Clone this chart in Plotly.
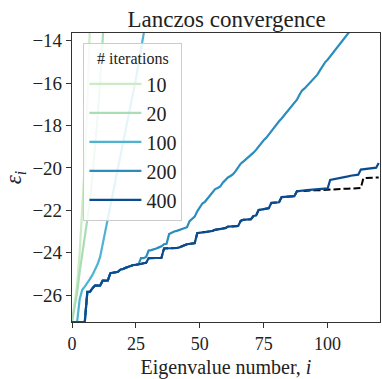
import plotly.graph_objects as go

# ---- data ----
iters_labels = ["10", "20", "100", "200", "400"]
colors = ["#ccebc5", "#a8ddb5", "#4eb3d3", "#2b8cbe", "#0a4c92"]

exact_vals = [
    -27.27, -27.27, -27.27, -27.27, -27.27, -27.27, -25.85, -25.85, -25.68, -25.55,
    -25.55, -25.55, -25.32, -25.32, -25.32, -24.97, -24.95, -24.95, -24.90, -24.79,
    -24.77, -24.71, -24.66, -24.60, -24.58, -24.57, -24.56, -24.53, -24.50, -24.48,
    -24.26, -24.26, -24.26, -24.25, -24.25, -24.24, -23.80, -23.80, -23.80, -23.80,
    -23.79, -23.78, -23.75, -23.68, -23.65, -23.60, -23.58, -23.56, -23.55, -23.08,
    -23.05, -23.04, -23.03, -23.02, -23.00, -22.97, -22.92, -22.90, -22.88, -22.86,
    -22.84, -22.77, -22.77, -22.76, -22.75, -22.74, -22.50, -22.45, -22.44, -22.43,
    -22.42, -22.27, -22.25, -21.99, -21.97, -21.95, -21.93, -21.90, -21.65, -21.65,
    -21.63, -21.62, -21.38, -21.37, -21.36, -21.35, -21.34, -21.33, -21.10, -21.09,
    -21.09, -21.08, -21.08, -21.07, -21.07, -21.06, -21.06, -21.05, -21.05, -21.04,
    -21.04, -21.03, -21.02, -21.01, -21.00, -20.99, -20.99, -20.98, -20.98, -20.97,
    -20.97, -20.96, -20.96, -20.95, -20.48, -20.48, -20.47, -20.47, -20.46, -20.46,
    -20.45,
]

ritz_10 = [-27.27, -26.4, -25.5, -24.0, -21.9, -19.8, -17.0, -13.7, -10.0, -6.0]

ritz_20 = [-27.27, -26.6, -25.9, -24.9, -24.1, -23.3, -22.6, -21.6, -20.4, -19.1,
           -17.6, -15.9, -14.0, -12.0]

ritz_100 = [-27.27, -27.27, -27.27, -26.2, -25.75, -25.6, -25.45, -25.25, -25.05, -24.8,
            -24.55, -24.2, -23.6, -23.1, -22.5, -21.95, -21.3, -20.65, -20.0, -19.4,
            -18.8, -18.2, -17.6, -17.0, -16.4, -15.8, -15.1, -14.4, -13.7, -13.0, -12.3]

ritz_200 = [
    -27.27, -27.27, -27.27, -27.27, -27.27, -27.27, -25.85, -25.85, -25.68, -25.55,
    -25.55, -25.55, -25.32, -25.32, -25.32, -24.97, -24.95, -24.95, -24.90, -24.79,
    -24.77, -24.71, -24.66, -24.60, -24.58, -24.57, -24.56, -24.26, -24.26, -24.20,
    -23.90, -23.88, -23.85, -23.80, -23.75, -23.70, -23.60, -23.58, -23.12, -23.05,
    -23.00, -22.97, -22.92, -22.87, -22.82, -22.80, -22.51, -22.42, -22.30, -22.05,
    -21.85, -21.68, -21.60, -21.45, -21.30, -21.12, -21.00, -20.95, -20.88, -20.70,
    -20.55, -20.45, -20.38, -20.30, -20.15, -19.95, -19.80, -19.70, -19.60, -19.50,
    -19.38, -19.28, -19.15, -18.98, -18.82, -18.70, -18.58, -18.42, -18.25, -18.10,
    -17.95, -17.80, -17.67, -17.52, -17.40, -17.25, -17.12, -16.95, -16.78, -16.55,
    -16.35, -16.25, -16.12, -16.00, -15.88, -15.77, -15.60, -15.40, -15.20, -15.02,
    -14.90, -14.75, -14.60, -14.42, -14.26, -14.10, -13.95, -13.80, -13.65, -13.50,
    -13.35,
]

ritz_400 = [
    -27.27, -27.27, -27.27, -27.27, -27.27, -27.27, -25.85, -25.85, -25.68, -25.55,
    -25.55, -25.55, -25.32, -25.32, -25.32, -24.97, -24.95, -24.95, -24.90, -24.79,
    -24.77, -24.71, -24.66, -24.60, -24.58, -24.57, -24.56, -24.53, -24.50, -24.48,
    -24.26, -24.26, -24.26, -24.25, -24.25, -24.24, -23.80, -23.80, -23.80, -23.80,
    -23.79, -23.78, -23.75, -23.68, -23.65, -23.60, -23.58, -23.56, -23.55, -23.08,
    -23.05, -23.04, -23.03, -23.02, -23.00, -22.97, -22.92, -22.90, -22.88, -22.86,
    -22.84, -22.77, -22.77, -22.76, -22.75, -22.74, -22.50, -22.45, -22.44, -22.43,
    -22.42, -22.27, -22.25, -21.99, -21.97, -21.95, -21.93, -21.90, -21.65, -21.65,
    -21.63, -21.62, -21.38, -21.37, -21.36, -21.35, -21.34, -21.33, -21.10, -21.08,
    -21.07, -21.06, -21.05, -21.04, -21.03, -21.02, -21.01, -21.00, -20.99, -20.98,
    -20.97, -20.57, -20.55, -20.52, -20.50, -20.48, -20.45, -20.42, -20.40, -20.37,
    -20.35, -20.33, -20.32, -20.08, -20.06, -20.04, -20.02, -20.01, -20.00, -19.99,
    -19.77,
]

x_ticks = [0, 25, 50, 75, 100]
y_ticks = [-26, -24, -22, -20, -18, -16, -14]
x_range = [0, 120.5]
y_range = [-27.27, -13.636]

series = [ritz_10, ritz_20, ritz_100, ritz_200, ritz_400]

FONT = "Liberation Serif, DejaVu Serif, Times New Roman, serif"
TXT = "#222"

fig = go.Figure()

# exact eigenvalues (dashed, underneath)
fig.add_trace(go.Scatter(
    x=list(range(len(exact_vals))), y=exact_vals, mode="lines",
    line=dict(color="black", width=2, dash="7px,3px"),
    showlegend=False, hoverinfo="skip",
))

for lab, col, vals in zip(iters_labels, colors, series):
    fig.add_trace(go.Scatter(
        x=list(range(len(vals))), y=vals, mode="lines", name=lab,
        legendgroup=lab,
        line=dict(color=col, width=2.2),
    ))

fig.update_layout(
    width=382, height=379,
    margin=dict(l=72, r=1, t=33, b=46),
    paper_bgcolor="white", plot_bgcolor="white",
    font=dict(family=FONT, color=TXT, size=19),
    title=dict(text="Lanczos convergence", x=0.593, xanchor="center",
               y=1 - 18.5 / 379, yanchor="middle", yref="container",
               font=dict(size=23, family=FONT, color=TXT)),
    legend=dict(
        xref="paper", yref="paper",
        x=0.037, y=0.967, xanchor="left", yanchor="top",
        bgcolor="rgba(255,255,255,0.85)", bordercolor="#cccccc", borderwidth=1,
        font=dict(size=20, family=FONT, color=TXT),
        title=dict(text="# iterations", font=dict(size=16, family=FONT, color=TXT),
                   side="top center"),
        tracegroupgap=0,
        itemwidth=52,
    ),
    showlegend=True,
)

fig.update_xaxes(
    range=x_range, tickvals=x_ticks, ticktext=[str(v) for v in x_ticks],
    showgrid=False, zeroline=False,
    showline=True, mirror=True, linecolor="#333", linewidth=1.2,
    ticks="outside", ticklen=5, tickwidth=1.1, tickcolor="#333",
    tickfont=dict(size=18, family=FONT, color=TXT),
    title=dict(text="Eigenvalue number, <i>i</i>", standoff=10,
               font=dict(size=20, family=FONT, color=TXT)),
)
fig.update_yaxes(
    range=y_range, tickvals=y_ticks, ticktext=["\u2212" + str(-v) for v in y_ticks],
    showgrid=False, zeroline=False,
    showline=True, mirror=True, linecolor="#333", linewidth=1.2,
    ticks="outside", ticklen=5, tickwidth=1.1, tickcolor="#333",
    tickfont=dict(size=19, family=FONT, color=TXT),
    title=dict(text="<i>ε</i><sub><i>i</i></sub>", standoff=4,
               font=dict(size=23, family=FONT, color=TXT)),
)

fig.write_html("out.html")
